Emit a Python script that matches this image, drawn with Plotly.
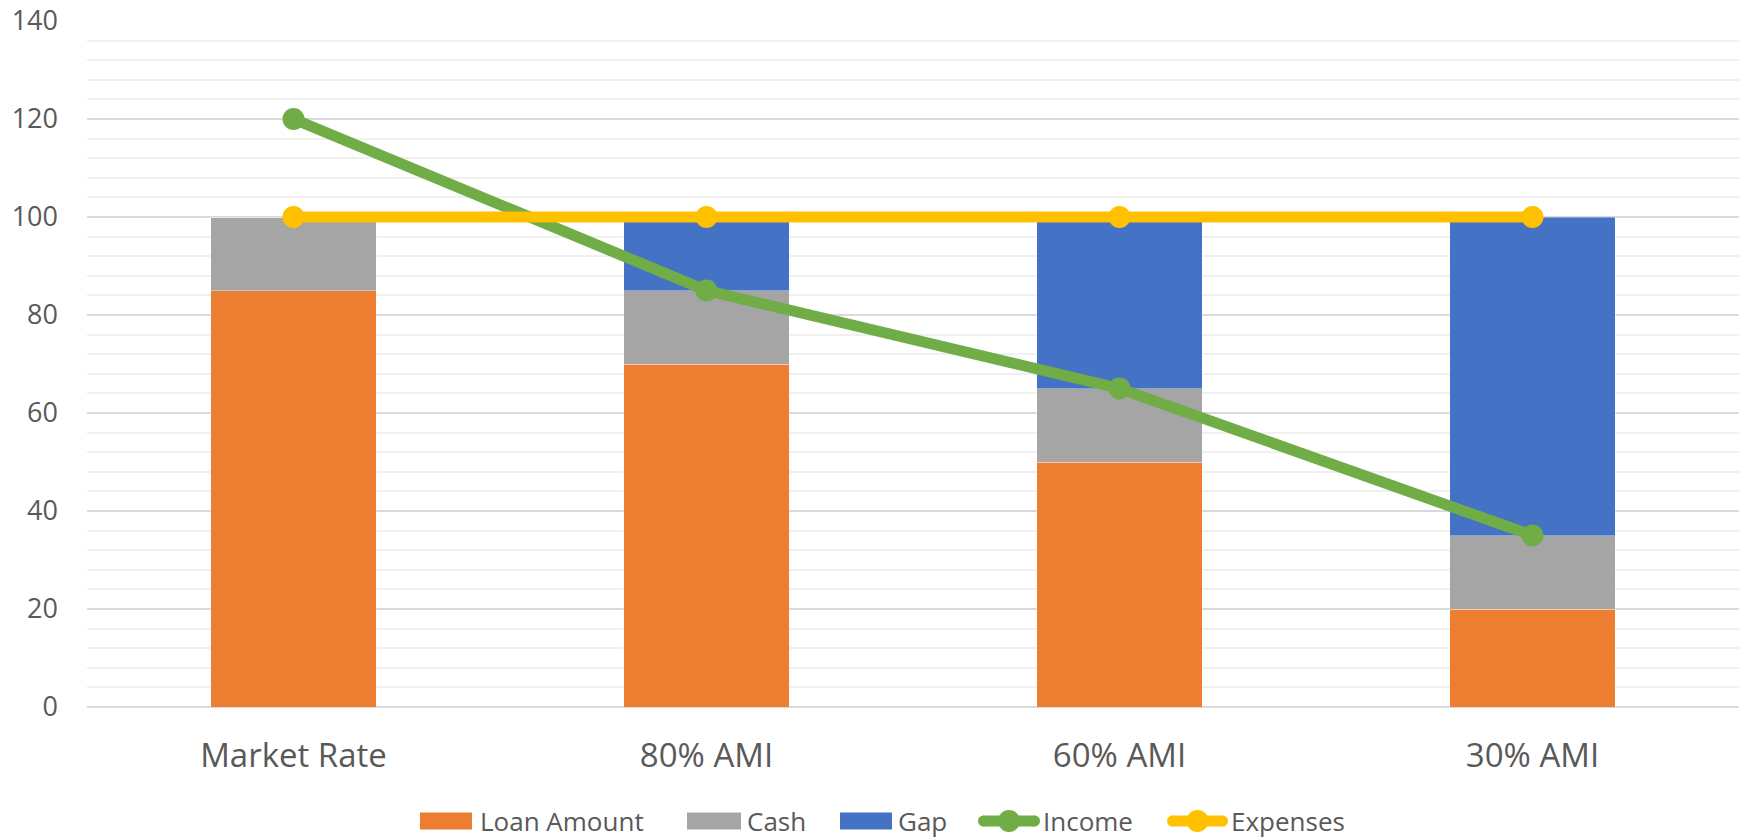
import plotly.graph_objects as go

categories = ["Market Rate", "80% AMI", "60% AMI", "30% AMI"]
loan_amount = [85, 70, 50, 20]
cash = [15, 15, 15, 15]
gap = [0, 15, 35, 65]
income = [120, 85, 65, 35]
expenses = [100, 100, 100, 100]
y_ticks = [0, 20, 40, 60, 80, 100, 120, 140]

ORANGE = "#ED7D31"
GRAY = "#A5A5A5"
BLUE = "#4472C4"
GREEN = "#70AD47"
YELLOW = "#FFC000"
TEXT = "#595959"

W, H = 1746, 838
M_L, M_R, M_T, M_B = 87, 7, 21, 131

fig = go.Figure()
bar_line = dict(width=0.8, color="rgba(255,255,255,0.45)")
fig.add_bar(x=categories, y=loan_amount, name="Loan Amount",
            marker=dict(color=ORANGE, line=bar_line))
fig.add_bar(x=categories, y=cash, name="Cash",
            marker=dict(color=GRAY, line=bar_line))
fig.add_bar(x=categories, y=gap, name="Gap",
            marker=dict(color=BLUE, line=bar_line))
fig.add_scatter(x=categories, y=income, name="Income", mode="lines+markers",
                line=dict(color=GREEN, width=11),
                marker=dict(color=GREEN, size=22))
fig.add_scatter(x=categories, y=expenses, name="Expenses", mode="lines+markers",
                line=dict(color=YELLOW, width=11),
                marker=dict(color=YELLOW, size=22))


# Legend row below the axis, built from shapes + annotations so the swatches
# can be wide rectangles / long line samples.
def px_to_paper_x(px):
    return (px - M_L) / (W - M_L - M_R)


def px_to_paper_y(py):
    return (H - M_B - py) / (H - M_T - M_B)


legend_y = 821
legend_items = [
    # (label, colour, kind, symbol left, symbol right, text left)
    ("Loan Amount", ORANGE, "bar", 420, 472, 478),
    ("Cash", GRAY, "bar", 687, 741, 745),
    ("Gap", BLUE, "bar", 840, 892, 896),
    ("Income", GREEN, "line", 978, 1040, 1041),
    ("Expenses", YELLOW, "line", 1167, 1228, 1229),
]

shapes = []
annotations = []
yc = px_to_paper_y(legend_y)
for label, colour, kind, sx0, sx1, tx in legend_items:
    if kind == "bar":
        shapes.append(dict(
            type="rect", xref="paper", yref="paper",
            x0=px_to_paper_x(sx0), x1=px_to_paper_x(sx1),
            y0=px_to_paper_y(legend_y + 8.5), y1=px_to_paper_y(legend_y - 8.5),
            fillcolor=colour, line=dict(width=0), layer="above",
        ))
    else:
        shapes.append(dict(
            type="line", xref="paper", yref="paper",
            x0=px_to_paper_x(sx0 + 5), x1=px_to_paper_x(sx1 - 5), y0=yc, y1=yc,
            line=dict(color=colour, width=11), layer="above",
        ))
        for end in (sx0 + 5.5, sx1 - 5.5, (sx0 + sx1) / 2):
            r = 5.5 if end != (sx0 + sx1) / 2 else 11
            shapes.append(dict(
                type="circle", xref="paper", yref="paper",
                xsizemode="pixel", ysizemode="pixel",
                xanchor=px_to_paper_x(end), yanchor=yc,
                x0=-r, x1=r, y0=-r, y1=r,
                fillcolor=colour, line=dict(width=0), layer="above",
            ))
    annotations.append(dict(
        text=label, xref="paper", yref="paper",
        x=px_to_paper_x(tx), y=yc, xanchor="left", yanchor="middle",
        showarrow=False, font=dict(family="Open Sans", size=26, color=TEXT),
    ))

fig.update_layout(
    template="none",
    width=W, height=H,
    margin=dict(l=M_L, r=M_R, t=M_T, b=M_B),
    barmode="stack",
    bargap=0.6,
    paper_bgcolor="white",
    plot_bgcolor="white",
    font=dict(family="Open Sans", color=TEXT),
    showlegend=False,
    shapes=shapes,
    annotations=annotations,
)

fig.update_xaxes(
    showgrid=False, showline=False, zeroline=False, ticks="",
    tickfont=dict(size=33, color=TEXT),
    ticklabelstandoff=26,
)
fig.update_yaxes(
    range=[0, 140],
    tickvals=y_ticks,
    showgrid=True, gridcolor="#D9D9D9", gridwidth=1.5,
    minor=dict(dtick=4, showgrid=True, gridcolor="#F0F0F0", gridwidth=1.5),
    zeroline=True, zerolinecolor="#D9D9D9", zerolinewidth=1.5,
    showline=False, ticks="",
    tickfont=dict(size=27, color=TEXT),
    ticklabelstandoff=28,
)

fig.write_html("out.html")
